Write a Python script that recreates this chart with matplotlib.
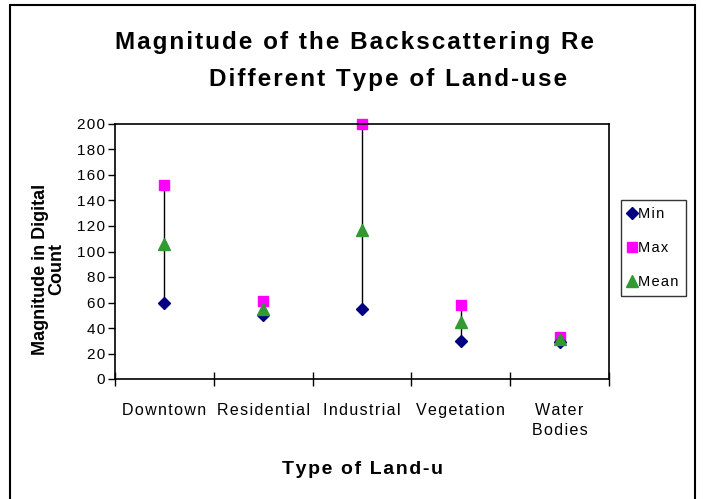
import matplotlib
matplotlib.use('Agg')
import matplotlib.pyplot as plt
import numpy as np
from matplotlib.patches import Rectangle
from matplotlib.ticker import FuncFormatter

plt.rcParams['font.family'] = ['Liberation Sans', 'DejaVu Sans']

categories = ['Downtown', 'Residential', 'Industrial', 'Vegetation', 'Water\nBodies']
min_vals = [60, 50, 55, 30, 29]
max_vals = [152, 61, 200, 58, 33]
mean_vals = [106, 55, 117, 45, 31]
y_ticks = list(range(0, 201, 20))


def spaced(s):
  # imitate the wide letter spacing of the original rendering
  return '\n'.join('\u200a'.join(line) for line in s.split('\n'))


W, H = 703, 499
fig = plt.figure(figsize=(W / 100, H / 100), dpi=100)

# outer chart border (bottom edge lies below the image)
fig.patches.append(Rectangle((10 / W, -0.05), 685 / W, 1.05 - 5 / H, transform=fig.transFigure,
                             fill=False, edgecolor='black', linewidth=1.5))

ax = fig.add_axes([115 / W, 1 - 379 / H, 494 / W, 255 / H])
x = np.arange(len(categories))

ax.vlines(x, min_vals, max_vals, color='black', linewidth=1, zorder=1)
ax.plot(x, min_vals, linestyle='none', marker='D', color='#000080', markersize=6, label=spaced('Min'),
        zorder=3, clip_on=False)
ax.plot(x, max_vals, linestyle='none', marker='s', color='#ff00ff', markersize=7.5, label=spaced('Max'),
        zorder=2, clip_on=False)
ax.plot(x, mean_vals, linestyle='none', marker='^', color='#339933', markersize=8, label=spaced('Mean'),
        zorder=4, clip_on=False)

ax.set_xlim(-0.5, len(categories) - 0.5)
ax.set_ylim(0, 200)
ax.set_yticks(y_ticks)
ax.yaxis.set_major_formatter(FuncFormatter(lambda v, p: spaced(str(int(v)))))
ax.tick_params(axis='y', direction='out', length=5, width=1, labelsize=11, pad=2)
ax.set_xticks(np.arange(-0.5, len(categories), 1.0))
ax.set_xticklabels([])
ax.tick_params(axis='x', which='major', direction='inout', length=10, width=1)
ax.set_xticks(x, minor=True)
ax.set_xticklabels([spaced(c) for c in categories], minor=True, fontsize=11.5)
ax.tick_params(axis='x', which='minor', length=0, pad=17)
for lbl in ax.get_xticklabels(minor=True):
  lbl.set_linespacing(1.45)
for s in ax.spines.values():
  s.set_linewidth(1.2)

ax.set_ylabel('Magnitude in Digital\nCount', fontsize=13, fontweight='bold', linespacing=1.0)
ax.yaxis.set_label_coords(-0.1, 0.43)

fig.text(115 / W, 1 - 42 / H, spaced('Magnitude of the Backscattering Re'), fontsize=17.5,
         fontweight='bold', ha='left', va='center')
fig.text(388 / W, 1 - 80 / H, spaced('Different Type of Land-use'), fontsize=17.5, fontweight='bold',
         ha='center', va='center')
fig.text(362 / W, 1 - 470 / H, spaced('Type of Land-u'), fontsize=14, fontweight='bold',
         ha='center', va='center')

leg = fig.legend(loc='upper left', bbox_to_anchor=(621 / W, 1 - 200 / H), fontsize=10.5,
                 frameon=True, fancybox=False, edgecolor='black', handlelength=0.5,
                 handletextpad=0.2, borderpad=0.5, borderaxespad=0, labelspacing=1.35)
leg.get_frame().set_linewidth(1)

fig.savefig('out.png', dpi=100)
